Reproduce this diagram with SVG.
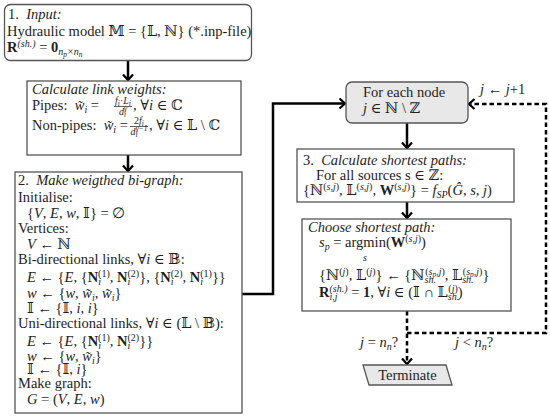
<svg xmlns="http://www.w3.org/2000/svg" width="550" height="419" viewBox="0 0 550 419">
<defs>
<style>
.t{font-family:"Liberation Serif","DejaVu Serif",serif;font-size:14.5px;fill:#1e1e1e}
.f{font-family:"Liberation Serif","DejaVu Serif",serif;font-size:10px;fill:#1e1e1e}
.i{font-style:italic}
.b{font-weight:bold}
.sup{font-size:10px;baseline-shift:5px}
.sub{font-size:10px;baseline-shift:-3px}
.f .sup{font-size:7.5px;baseline-shift:4px}
.f .sub{font-size:7.5px;baseline-shift:-2px}
.ss{font-size:7.5px;baseline-shift:-2px}
.box{fill:#fff;stroke:#555;stroke-width:1.3}
.gbox{fill:#e8e8e8;stroke:#555;stroke-width:1.3}
.con{fill:none;stroke:#000;stroke-width:2.5}
.dash{fill:none;stroke:#000;stroke-width:2.5;stroke-dasharray:4.5,3}
.bar{stroke:#1e1e1e;stroke-width:0.7}
</style>
<marker id="ah" viewBox="-7 -6 9 12" markerWidth="9" markerHeight="12" refX="0" refY="0" orient="auto" markerUnits="userSpaceOnUse">
<path d="M-5.5,-5 L0,0 L-5.5,5" fill="none" stroke="#000" stroke-width="2.2"/>
</marker>
</defs>

<g id="connectors">
<line class="con" x1="128" y1="61" x2="128" y2="80" marker-end="url(#ah)"/>
<line class="con" x1="128" y1="155" x2="128" y2="171" marker-end="url(#ah)"/>
<polyline class="con" points="242,294 273,294 273,103.5 345,103.5" marker-end="url(#ah)"/>
<line class="con" x1="407" y1="123" x2="407" y2="148" marker-end="url(#ah)"/>
<line class="con" x1="407" y1="202" x2="407" y2="218" marker-end="url(#ah)"/>
<line class="dash" x1="407" y1="311" x2="407" y2="364" marker-end="url(#ah)"/>
<polyline class="dash" points="407,333 546,333 546,104 469,104" marker-end="url(#ah)"/>
<text class="t" x="480" y="94"><tspan class="i">j</tspan> ← <tspan class="i">j</tspan>+1</text>
<text class="t" x="360" y="347"><tspan class="i">j</tspan> = <tspan class="i">n</tspan><tspan class="sub i">n</tspan>?</text>
<text class="t" x="455" y="347"><tspan class="i">j</tspan> &lt; <tspan class="i">n</tspan><tspan class="sub i">n</tspan>?</text>
</g>

<g id="input">
<rect class="box" x="4.5" y="4.5" width="247" height="56" rx="6"/>
<text class="t" x="8" y="19">1.&#160; <tspan class="i">Input:</tspan></text>
<text class="t" x="7" y="36">Hydraulic model 𝕄 = {𝕃, ℕ} (*.inp-file)</text>
<text class="t" x="7" y="52"><tspan class="b">R</tspan><tspan class="sup i">(sh.)</tspan> = <tspan class="b">0</tspan><tspan class="sub i">n<tspan class="ss">p</tspan>×n<tspan class="ss">n</tspan></tspan></text>
</g>

<g id="link-weights">
<rect class="box" x="27" y="81" width="214" height="74"/>
<text class="t i" x="32" y="94">Calculate link weights:</text>
<text class="t" x="32" y="110">Pipes:&#160; <tspan class="i">w̃</tspan><tspan class="sub i">i</tspan> =</text>
<text class="f" x="123" y="104" text-anchor="middle"><tspan class="i">f</tspan><tspan class="sub i">i</tspan>·<tspan class="i">L</tspan><tspan class="sub i">i</tspan></text>
<line class="bar" x1="114" y1="106.5" x2="132" y2="106.5"/>
<text class="f" x="123" y="115" text-anchor="middle"><tspan class="i">d</tspan><tspan class="sub i">i</tspan><tspan class="sup i" dx="-2">γ</tspan></text>
<text class="t" x="133" y="110">, ∀<tspan class="i">i</tspan> ∈ ℂ</text>
<text class="t" x="32" y="130">Non-pipes:&#160; <tspan class="i">w̃</tspan><tspan class="sub i">i</tspan> =</text>
<text class="f" x="139" y="124" text-anchor="middle">2<tspan class="i">f</tspan><tspan class="sub i">i</tspan></text>
<line class="bar" x1="130" y1="126.5" x2="148" y2="126.5"/>
<text class="f" x="139" y="135" text-anchor="middle"><tspan class="i">d</tspan><tspan class="sub i">i</tspan><tspan class="sup i" dx="-2">γ−1</tspan></text>
<text class="t" x="149" y="130">, ∀<tspan class="i">i</tspan> ∈ 𝕃 \ ℂ</text>
</g>

<g id="bi-graph">
<rect class="box" x="15" y="172" width="227" height="241"/>
<text class="t" x="18" y="185">2.&#160; <tspan class="i">Make weigthed bi-graph:</tspan></text>
<text class="t" x="18" y="202">Initialise:</text>
<text class="t" x="27" y="218">{<tspan class="i">V</tspan>, <tspan class="i">E</tspan>, <tspan class="i">w</tspan>, 𝕀} = ∅</text>
<text class="t" x="18" y="233">Vertices:</text>
<text class="t" x="27" y="249"><tspan class="i">V</tspan> ← ℕ</text>
<text class="t" x="18" y="264">Bi-directional links, ∀<tspan class="i">i</tspan> ∈ 𝔹:</text>
<text class="t" x="27" y="282"><tspan class="i">E</tspan> ← {<tspan class="i">E</tspan>, {<tspan class="b">N</tspan><tspan class="sub i">i</tspan><tspan class="sup" dx="-2.8">(1)</tspan>, <tspan class="b">N</tspan><tspan class="sub i">i</tspan><tspan class="sup" dx="-2.8">(2)</tspan>}, {<tspan class="b">N</tspan><tspan class="sub i">i</tspan><tspan class="sup" dx="-2.8">(2)</tspan>, <tspan class="b">N</tspan><tspan class="sub i">i</tspan><tspan class="sup" dx="-2.8">(1)</tspan>}}</text>
<text class="t" x="27" y="298"><tspan class="i">w</tspan> ← {<tspan class="i">w</tspan>, <tspan class="i">w̃</tspan><tspan class="sub i">i</tspan>, <tspan class="i">w̃</tspan><tspan class="sub i">i</tspan>}</text>
<text class="t" x="27" y="313">𝕀 ← {𝕀, <tspan class="i">i</tspan>, <tspan class="i">i</tspan>}</text>
<text class="t" x="18" y="328">Uni-directional links, ∀<tspan class="i">i</tspan> ∈ (𝕃 \ 𝔹):</text>
<text class="t" x="27" y="346">
<tspan class="i">E</tspan> ← {<tspan class="i">E</tspan>, {<tspan class="b">N</tspan><tspan class="sub i">i</tspan><tspan class="sup" dx="-2.8">(1)</tspan>, <tspan class="b">N</tspan><tspan class="sub i">i</tspan><tspan class="sup" dx="-2.8">(2)</tspan>}}</text>
<text class="t" x="27" y="361"><tspan class="i">w</tspan> ← {<tspan class="i">w</tspan>, <tspan class="i">w̃</tspan><tspan class="sub i">i</tspan>}</text>
<text class="t" x="27" y="374">𝕀 ← {𝕀, <tspan class="i">i</tspan>}</text>
<text class="t" x="18" y="388">Make graph:</text>
<text class="t" x="27" y="404"><tspan class="i">G</tspan> = (<tspan class="i">V</tspan>, <tspan class="i">E</tspan>, <tspan class="i">w</tspan>)</text>
</g>

<g id="for-each-node">
<rect class="gbox" x="346" y="82" width="122" height="41" rx="6"/>
<text class="t" x="363" y="97">For each node</text>
<text class="t" x="363" y="113"><tspan class="i">j</tspan> ∈ ℕ \ ℤ</text>
</g>

<g id="shortest-paths">
<rect class="box" x="297" y="149" width="217" height="53"/>
<text class="t" x="303" y="165">3.&#160; <tspan class="i">Calculate shortest paths:</tspan></text>
<text class="t" x="316" y="180">For all sources s ∈ ℤ:</text>
<text class="t" x="303" y="195">{ℕ<tspan class="sup">(<tspan class="i">s</tspan>,<tspan class="i">j</tspan>)</tspan>, 𝕃<tspan class="sup">(<tspan class="i">s</tspan>,<tspan class="i">j</tspan>)</tspan>, <tspan class="b">W</tspan><tspan class="sup">(<tspan class="i">s</tspan>,<tspan class="i">j</tspan>)</tspan>} = <tspan class="i">f</tspan><tspan class="sub i">SP</tspan>(<tspan class="i">Ĝ</tspan>, <tspan class="i">s</tspan>, <tspan class="i">j</tspan>)</text>
</g>

<g id="choose-path">
<rect class="box" x="302" y="219" width="209" height="92"/>
<text class="t i" x="308" y="232">Choose shortest path:</text>
<text class="t" x="319" y="247"><tspan class="i">s</tspan><tspan class="sub i">p</tspan> = argmin(<tspan class="b">W</tspan><tspan class="sup">(<tspan class="i">s</tspan>,<tspan class="i">j</tspan>)</tspan>)</text>
<text class="f i" x="365" y="261" text-anchor="middle">s</text>
<text class="t" x="319" y="280">{ℕ<tspan class="sup">(<tspan class="i">j</tspan>)</tspan>, 𝕃<tspan class="sup">(<tspan class="i">j</tspan>)</tspan>} ← {ℕ<tspan class="sub i">sh.</tspan><tspan class="sup" dx="-10.8">(<tspan class="i">s</tspan><tspan class="ss i">p</tspan>,<tspan class="i">j</tspan>)</tspan>, 𝕃<tspan class="sub i">sh.</tspan><tspan class="sup" dx="-10.8">(<tspan class="i">s</tspan><tspan class="ss i">p</tspan>,<tspan class="i">j</tspan>)</tspan>}</text>
<text class="t" x="319" y="297"><tspan class="b">R</tspan><tspan class="sub i">i,j</tspan><tspan class="sup i" dx="-8.1">(sh.)</tspan> = <tspan class="b">1</tspan>, ∀<tspan class="i">i</tspan> ∈ (𝕀 ∩ 𝕃<tspan class="sub i">sh.</tspan><tspan class="sup" dx="-10.8">(<tspan class="i">j</tspan>)</tspan>)</text>
</g>

<g id="terminate">
<polygon class="gbox" points="363,365 446,365 452,385 369,385"/>
<text class="t" x="407.5" y="380" text-anchor="middle">Terminate</text>
</g>
</svg>
